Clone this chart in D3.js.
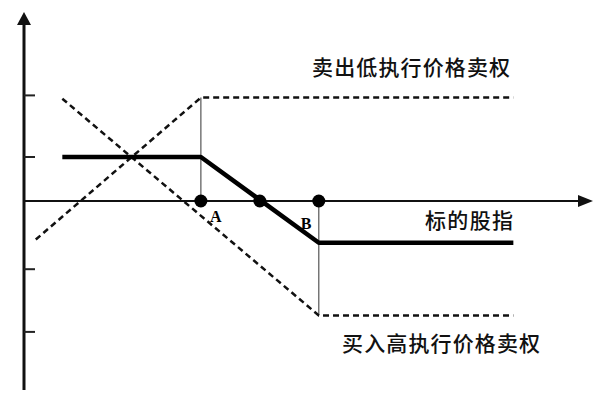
<!DOCTYPE html>
<html>
<head>
<meta charset="utf-8">
<script src="https://cdn.jsdelivr.net/npm/d3@7"></script>
<style>
  body { margin: 0; background: #fff; }
  svg { display: block; }
</style>
</head>
<body>
<svg id="chart" width="600" height="402"></svg>
<script>
const width = 600, height = 402;

// strikes and payoff lines (index units, profit units)
const strikeA = 30, strikeB = 50, midPoint = 40;
const spread = [[6.5, 4], [30, 4], [50, -3.8], [83, -3.8]];
const shortPut = [[2, -3.5], [30, 9.4], [83, 9.4]];
const longPut = [[6.5, 9.3], [50, -10.4], [83, -10.4]];
const yTicks = [9.6, 4, -6.2, -11.9];

const labels = {
  shortPut: '卖出低执行价格卖权',
  longPut: '买入高执行价格卖权',
  xAxis: '标的股指'
};

const svg = d3.select('#chart');

const x = d3.scaleLinear().domain([0, 96]).range([24, 590]);
const y = d3.scaleLinear().domain([-17, 17]).range([388, 14]);

const line = d3.line().x(d => x(d[0])).y(d => y(d[1]));

// axes
svg.append('line')
  .attr('x1', x(0)).attr('x2', x(96) - 10)
  .attr('y1', y(0)).attr('y2', y(0))
  .attr('stroke', '#111').attr('stroke-width', 2);
svg.append('path')
  .attr('d', `M${x(96) + 3},${y(0)} l-15,-6 l0,12 z`)
  .attr('fill', '#111');

svg.append('line')
  .attr('x1', x(0)).attr('x2', x(0))
  .attr('y1', y(-17) + 2).attr('y2', y(17) + 10)
  .attr('stroke', '#111').attr('stroke-width', 3);
svg.append('path')
  .attr('d', `M${x(0)},${y(17) - 2} l-7,13 l14,0 z`)
  .attr('fill', '#111');

svg.selectAll('.tick')
  .data(yTicks)
  .join('line')
  .attr('class', 'tick')
  .attr('x1', x(0)).attr('x2', x(0) + 11)
  .attr('y1', d => y(d)).attr('y2', d => y(d))
  .attr('stroke', '#222').attr('stroke-width', 2);

// guide lines at the strikes
svg.append('line')
  .attr('x1', x(strikeA)).attr('x2', x(strikeA))
  .attr('y1', y(shortPut[1][1])).attr('y2', y(0))
  .attr('stroke', '#555').attr('stroke-width', 1.2);
svg.append('line')
  .attr('x1', x(strikeB)).attr('x2', x(strikeB))
  .attr('y1', y(0)).attr('y2', y(longPut[1][1]))
  .attr('stroke', '#555').attr('stroke-width', 1.2);

// option payoffs
[shortPut, longPut].forEach(d => {
  svg.append('path')
    .attr('d', line(d))
    .attr('fill', 'none')
    .attr('stroke', '#111')
    .attr('stroke-width', 2.5)
    .attr('stroke-dasharray', '6,4');
});

svg.append('path')
  .attr('d', line(spread))
  .attr('fill', 'none')
  .attr('stroke', '#000')
  .attr('stroke-width', 4.5)
  .attr('stroke-linejoin', 'round');

svg.selectAll('.dot')
  .data([strikeA, midPoint, strikeB])
  .join('circle')
  .attr('class', 'dot')
  .attr('cx', d => x(d)).attr('cy', y(0))
  .attr('r', 6.5)
  .attr('fill', '#000');

svg.append('text')
  .attr('x', x(strikeA) + 9).attr('y', y(0) + 21)
  .attr('font-family', 'Liberation Serif, serif')
  .attr('font-weight', 'bold').attr('font-size', 16)
  .text('A');
svg.append('text')
  .attr('x', x(strikeB) - 18).attr('y', y(0) + 28)
  .attr('font-family', 'Liberation Serif, serif')
  .attr('font-weight', 'bold').attr('font-size', 16)
  .text('B');

const cjk = '"Noto Sans CJK SC", sans-serif';
svg.append('text')
  .attr('x', 312).attr('y', 75)
  .attr('font-family', cjk).attr('font-size', 21)
  .attr('font-weight', 500)
  .attr('textLength', 198)
  .attr('fill', '#111')
  .text(labels.shortPut);
svg.append('text')
  .attr('x', 425).attr('y', 228)
  .attr('font-family', cjk).attr('font-size', 21)
  .attr('font-weight', 500)
  .attr('textLength', 88)
  .attr('fill', '#111')
  .text(labels.xAxis);
svg.append('text')
  .attr('x', 342).attr('y', 351)
  .attr('font-family', cjk).attr('font-size', 21)
  .attr('font-weight', 500)
  .attr('textLength', 198)
  .attr('fill', '#111')
  .text(labels.longPut);
</script>
</body>
</html>
